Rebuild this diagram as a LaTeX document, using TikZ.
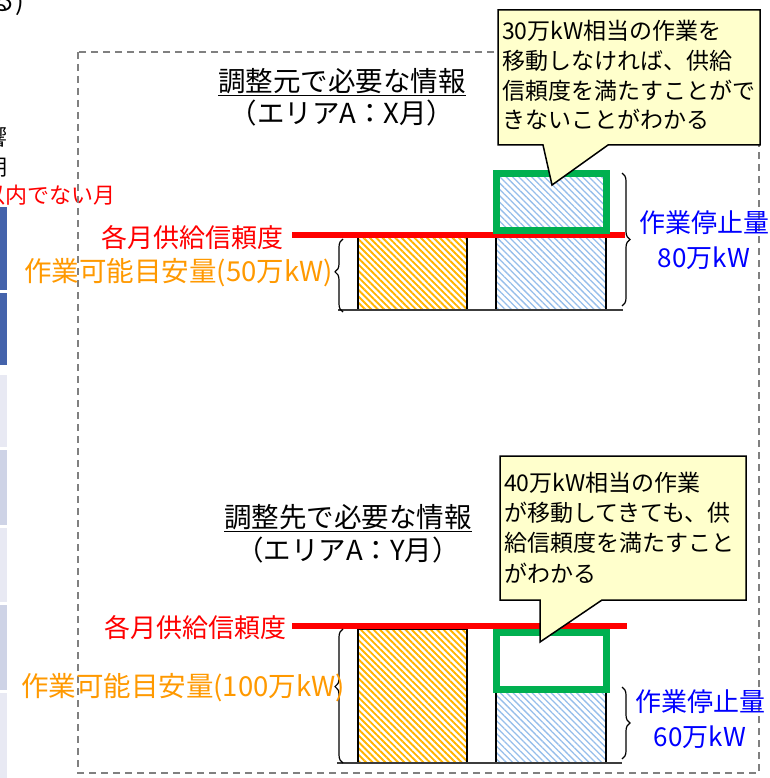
\documentclass[tikz,border=0pt]{standalone}
\usepackage{fontspec}
\setmainfont{Noto Sans CJK JP}
\usetikzlibrary{patterns.meta,decorations.pathreplacing}
\definecolor{myred}{RGB}{255,0,0}
\definecolor{myorange}{RGB}{255,153,0}
\definecolor{hatchorange}{RGB}{255,180,0}
\definecolor{hatchblue}{RGB}{150,190,235}
\definecolor{mygreen}{RGB}{0,176,80}
\definecolor{myblue}{RGB}{0,0,255}
\definecolor{calloutfill}{RGB}{255,255,204}
\definecolor{framegray}{RGB}{128,128,128}
\definecolor{stripdark}{RGB}{68,99,171}
\definecolor{striplight}{RGB}{232,233,243}
\definecolor{stripmid}{RGB}{206,211,230}
\definecolor{baseline}{RGB}{60,60,60}
\tikzset{
  lbl/.style={inner sep=0pt, font=\fontsize{26}{32}\selectfont},
  redlbl/.style={lbl, text=myred},
  orangelbl/.style={lbl, text=myorange, font=\fontsize{27.5}{32}\selectfont},
  bluelbl/.style={lbl, text=myblue, align=center, font=\fontsize{26}{35}\selectfont},
  titlelbl/.style={lbl, font=\fontsize{27.5}{32}\selectfont},
  edgelbl/.style={inner sep=0pt, font=\fontsize{22}{26}\selectfont},
  calltext/.style={inner sep=0pt, anchor=base west, font=\fontsize{23}{30}\selectfont},
  orangebox/.style={draw=black, line width=1.5pt, pattern={Lines[angle=-45,distance=4.5pt,line width=1.9pt]}, pattern color=hatchorange},
  bluebox/.style={draw=black, line width=1.5pt, pattern={Lines[angle=-45,distance=4.5pt,line width=1.3pt]}, pattern color=hatchblue},
  greenbox/.style={draw=mygreen, line width=7pt},
  redline/.style={draw=myred, line width=5.5pt},
  baseln/.style={draw=baseline, line width=1.5pt},
  bracedeco/.style={draw=black, line width=1.2pt, decorate, decoration={brace, amplitude=8pt, aspect=#1}},
  frame/.style={draw=framegray, line width=1.8pt, dash pattern=on 7pt off 5pt},
  callout/.style={draw=black, line width=1.5pt, fill=calloutfill, line join=miter},
}
\begin{document}
\begin{tikzpicture}[x=1pt,y=-1pt]
\useasboundingbox (0,0) rectangle (769,778);
\clip (0,0) rectangle (769,778);
\fill[white] (0,0) rectangle (769,778);

% left edge fragments
\fill[stripdark] (0,207) rectangle (7,290);
\fill[stripdark] (0,293) rectangle (7,365);
\fill[striplight] (0,375) rectangle (7,447);
\fill[stripmid] (0,450) rectangle (7,525);
\fill[striplight] (0,528) rectangle (7,602);
\fill[stripmid] (0,605) rectangle (7,690);
\fill[striplight] (0,693) rectangle (7,778);
\node[edgelbl, anchor=base east, font=\fontsize{26}{30}\selectfont] (frag1) at (24,11) {る)};
\node[edgelbl, anchor=east] (frag2) at (7.5,137) {響};
\node[edgelbl, anchor=east] (frag3) at (7.5,167) {期};
\node[edgelbl, anchor=east, text=myred] (frag4) at (116,195) {以内でない月};

% dashed frame
\draw[frame] (78,52) rectangle (759,773);

% ===== top section =====
\node[titlelbl] (t1a) at (342,82) {\underline{調整元で必要な情報}};
\node[titlelbl] (t1b) at (342,113) {（エリアA：X月）};

\draw[orangebox] (358,237) rectangle (467,310);
\draw[bluebox] (496,237) rectangle (606,310);
\draw[redline] (292,235) -- (625,235);
\draw[greenbox, pattern={Lines[angle=-45,distance=4.5pt,line width=1.3pt]}, pattern color=hatchblue] (496.5,173.5) rectangle (606.5,230.5);
\draw[baseln] (338,310) -- (623,310);

\coordinate (lb1s) at (343,312);
\coordinate (lb1e) at (343,239);
\draw[bracedeco=0.55] (lb1s) -- (lb1e);
\coordinate (rb1s) at (622,173);
\coordinate (rb1e) at (622,306);
\draw[bracedeco=0.5] (rb1s) -- (rb1e);

\node[redlbl, anchor=east] (r1) at (284,238) {各月供給信頼度};
\node[orangelbl, anchor=east] (o1) at (333,273) {作業可能目安量(50万kW)};
\node[bluelbl] (b1) at (704,240) {作業停止量\\80万kW};

% ===== bottom section =====
\node[titlelbl] (t2a) at (348,518) {\underline{調整先で必要な情報}};
\node[titlelbl] (t2b) at (348,550) {（エリアA：Y月）};

\draw[orangebox] (358,629) rectangle (467,763);
\draw[bluebox] (496,692) rectangle (606,763);
\draw[redline] (292,626) -- (627,626);
\draw[greenbox] (496.5,632.5) rectangle (606.5,689.5);
\draw[baseln] (337,763) -- (622,763);

\coordinate (lb2s) at (343,763);
\coordinate (lb2e) at (343,629);
\draw[bracedeco=0.57] (lb2s) -- (lb2e);
\coordinate (rb2s) at (622,687);
\coordinate (rb2e) at (622,759);
\draw[bracedeco=0.5] (rb2s) -- (rb2e);

\node[redlbl, anchor=east] (r2) at (287,628) {各月供給信頼度};
\node[orangelbl, anchor=east] (o2) at (345,688) {作業可能目安量(100万kW)};
\node[bluelbl] (b2) at (700,719) {作業停止量\\60万kW};

% ===== callouts =====
\draw[callout] (498,10) -- (760,10) -- (760,145) -- (608,145) -- (552,185) -- (543,145) -- (498,145) -- cycle;
\node[calltext] (c1a) at (502,40) {30万kW相当の作業を};
\node[calltext] (c1b) at (502,70) {移動しなければ、供給};
\node[calltext] (c1c) at (502,100) {信頼度を満たすことがで};
\node[calltext] (c1d) at (502,129) {きないことがわかる};

\draw[callout] (500,456) -- (746,456) -- (746,600) -- (602,600) -- (540,642) -- (540,600) -- (500,600) -- cycle;
\node[calltext] (c2a) at (504,491) {40万kW相当の作業};
\node[calltext] (c2b) at (504,521) {が移動してきても、供};
\node[calltext] (c2c) at (504,551) {給信頼度を満たすこと};
\node[calltext] (c2d) at (504,582) {がわかる};
\end{tikzpicture}
\end{document}
